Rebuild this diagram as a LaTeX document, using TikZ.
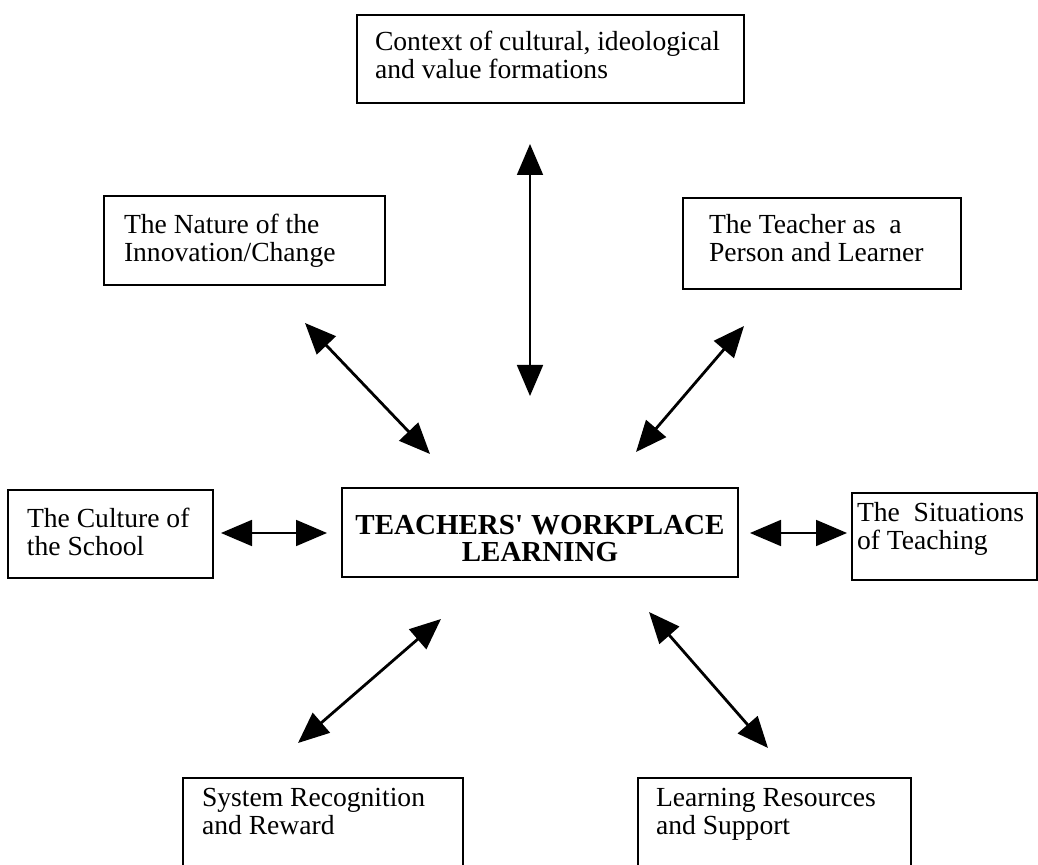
\documentclass[tikz,border=0pt]{standalone}
\usepackage{fontspec}
\setmainfont{Liberation Serif}
\usetikzlibrary{arrows.meta}
% depth/height struts used to place the text block inside its frame
\newcommand\lowstrut[1]{\rule[-#1]{0pt}{#1}}
\newcommand\highstrut[1]{\rule{0pt}{#1}}
\begin{document}
\begin{tikzpicture}[x=0.5pt,y=-0.5pt,
  box/.style={draw, line width=1pt, anchor=north west, inner sep=0pt, outer sep=0pt,
    align=left, font=\fontsize{13.8pt}{14pt}\selectfont},
  indent/.style={execute at begin node={\leftskip=#1\relax\spaceskip=0pt\relax\xspaceskip=0pt\relax}},
  hub/.style={draw, line width=1pt, anchor=north west, inner sep=0pt, outer sep=0pt,
    align=center, font=\fontsize{14.5pt}{13.5pt}\selectfont\bfseries,
    execute at begin node={\spaceskip=0pt\relax\xspaceskip=0pt\relax}},
  link/.style={{Triangle[length=15.5pt,width=13pt]}-{Triangle[length=15.5pt,width=13pt]},
    line width=1.4pt},
  thinlink/.style={link, line width=0.9pt}]
\useasboundingbox (0,0) rectangle (1038,865);
\clip (0,0) rectangle (1038,865);

% central theme
\node[hub, text width=198pt, minimum height=44.5pt] (twl) at (342,488)
  {\highstrut{16pt}TEACHERS\textquotesingle\ WORKPLACE\\LEARNING};

% surrounding influences
\node[box, indent=9pt, text width=193.5pt, minimum height=44pt] (ctx) at (357,15)
  {Context of cultural, ideological\\and value formations\lowstrut{4.5pt}};
\node[box, indent=10pt, text width=140.5pt, minimum height=44.5pt] (nat) at (104,196)
  {The Nature of the\\Innovation/Change};
\node[box, indent=13pt, text width=139pt, minimum height=45.5pt] (tch) at (683,198)
  {The Teacher as\ \ a\\Person and Learner\lowstrut{5.5pt}};
\node[box, indent=9.5pt, text width=102.5pt, minimum height=44pt] (cul) at (8,490)
  {The Culture of\\the School\lowstrut{2.5pt}};
\node[box, indent=2.5pt, text width=92.5pt, minimum height=43.5pt] (sit) at (852,493)
  {The\ \ Situations\\of Teaching\lowstrut{11pt}};
\node[box, indent=9.5pt, text width=140pt, minimum height=60pt] (sys) at (183,778)
  {System Recognition\\and Reward\lowstrut{26.5pt}};
\node[box, indent=9pt, text width=136.5pt, minimum height=60pt] (lrn) at (638,778)
  {Learning Resources\\and Support\lowstrut{26.5pt}};

% arrow end points
\coordinate (ctx-end) at (530,144);
\coordinate (ctx-hub) at (530,396);
\coordinate (nat-end) at (305,323);
\coordinate (nat-hub) at (430,454);
\coordinate (tch-end) at (744,326);
\coordinate (tch-hub) at (636,452);
\coordinate (cul-end) at (221,533);
\coordinate (cul-hub) at (327,533);
\coordinate (sit-hub) at (750,533);
\coordinate (sit-end) at (847,533);
\coordinate (sys-hub) at (441,619);
\coordinate (sys-end) at (298,743);
\coordinate (lrn-hub) at (649,612);
\coordinate (lrn-end) at (768,748);

% two-way links
\draw[thinlink] (ctx-end) -- (ctx-hub);
\draw[link] (nat-end) -- (nat-hub);
\draw[link] (tch-end) -- (tch-hub);
\draw[thinlink] (cul-end) -- (cul-hub);
\draw[thinlink] (sit-hub) -- (sit-end);
\draw[link] (sys-hub) -- (sys-end);
\draw[link] (lrn-hub) -- (lrn-end);
\end{tikzpicture}
\end{document}
